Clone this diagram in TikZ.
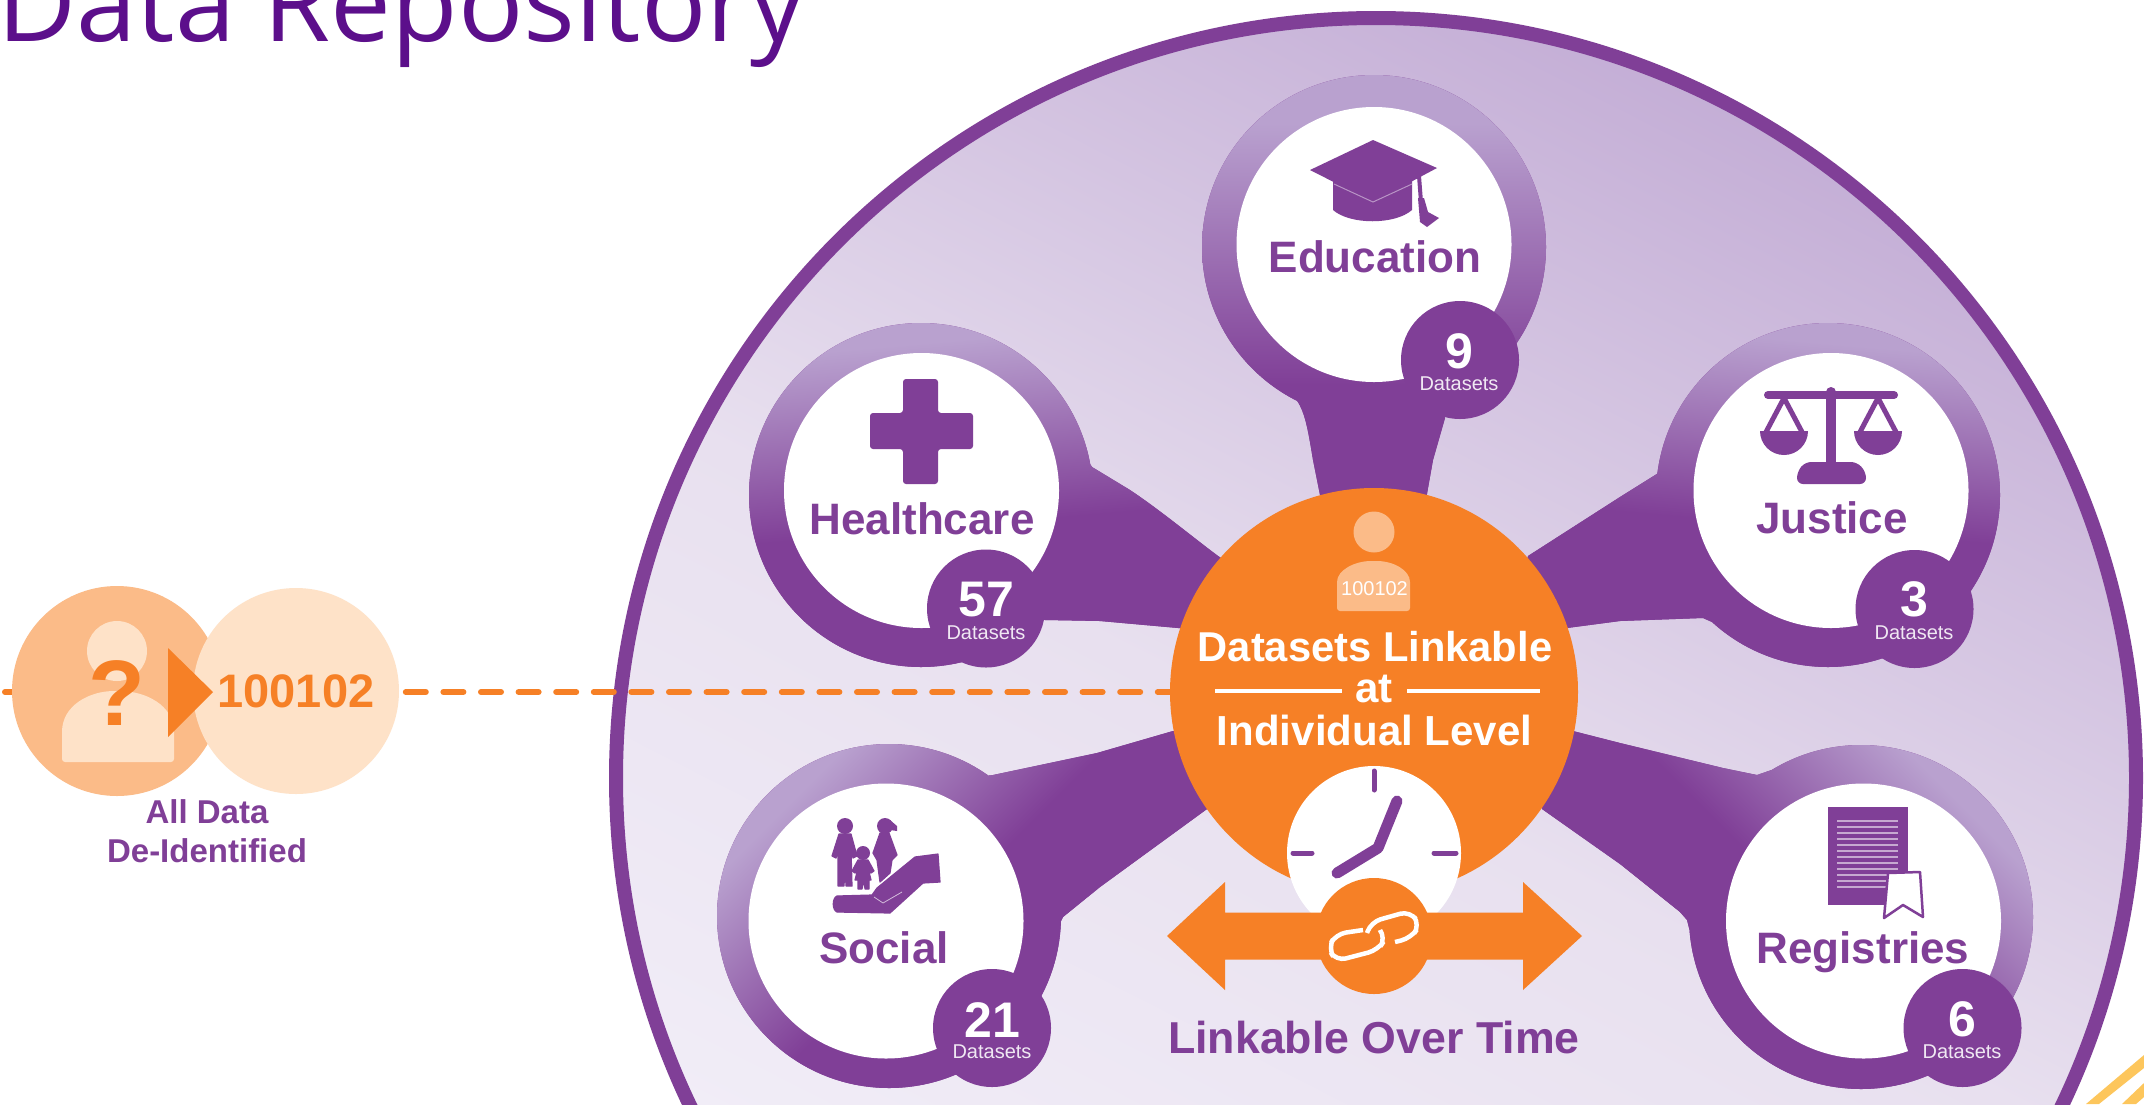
\documentclass[tikz,border=0pt]{standalone}
\usepackage{fontspec}
\setmainfont{Liberation Sans}
\newfontfamily\titlefont{Open Sans}
\definecolor{hubsp}{HTML}{803F97}
\definecolor{hublt}{HTML}{B9A1CF}
\definecolor{hubor}{HTML}{F68026}
\definecolor{peach}{HTML}{FBBB88}
\definecolor{cream}{HTML}{FEE2C8}
\definecolor{titlec}{HTML}{5C0F8B}
\definecolor{bgA}{HTML}{F4F0F9}
\definecolor{bgB}{HTML}{F1EDF7}
\definecolor{bgC}{HTML}{E8E0EF}
\definecolor{bgD}{HTML}{C4AED6}
\definecolor{stripeA}{HTML}{FDC65C}
\pgfdeclareverticalshading{hubA}{100bp}{color(0bp)=(hubsp);color(47.5bp)=(hubsp);color(61bp)=(hublt);color(100bp)=(hublt)}
\pgfdeclareverticalshading{hubB}{100bp}{color(0bp)=(hubsp);color(40bp)=(hubsp);color(59bp)=(hublt);color(100bp)=(hublt)}
\pgfdeclareverticalshading{bgdisk}{100bp}{color(0bp)=(bgA);color(30bp)=(bgB);color(50bp)=(bgC);color(75bp)=(bgD);color(100bp)=(bgD)}
\newcommand{\fsz}[1]{\fontsize{#1}{#1}\selectfont}
\tikzset{
  ptxt/.style={anchor=base,inner sep=0pt,text=hubsp,font=\fsz{#1}\bfseries},
  wtxt/.style={anchor=base,inner sep=0pt,text=white,font=\fsz{#1}\bfseries},
  dsets/.style={anchor=base,inner sep=0pt,text=white!88!hubsp,font=\fsz{20}},
  badge/.style={circle,fill=hubsp,inner sep=0pt,minimum size=118pt},
  whitedisc/.style={circle,fill=white,inner sep=0pt,minimum size=275pt},
  icon/.style={fill=hubsp,draw=none},
  figure icon/.style={fill=hubsp,draw=hubsp,line width=1.2pt,line join=round},
}
% #1 ring centre, #2 shading name, #3 shading angle, #4 spoke path
\newcommand{\hubring}[4]{%
  \fill[hubsp] (#1) circle (172pt) #4;
  \begin{scope}
    \clip (#1) circle (172pt) #4;
    \shade[shading=#2,shading angle=#3] (#1) circle (344pt);
  \end{scope}}
\begin{document}
\begin{tikzpicture}[x=1pt,y=-1pt]
\useasboundingbox (0,0) rectangle (2144,1104);
\clip (0,0) rectangle (2144,1104);
\fill[white] (0,0) rectangle (2144,1104);

% title
\node[anchor=base east,inner sep=0pt,text=titlec,font=\fsz{108.5}\titlefont] (title) at (806,41) {Data Repository};

% corner stripes
\fill[stripeA] (2086,1104) -- (2099,1104) -- (2144,1068) -- (2144,1055) -- cycle;
\fill[stripeA] (2122,1104) -- (2136,1104) -- (2144,1097) -- (2144,1083) -- cycle;

% big disc
\shade[shading=bgdisk,shading angle=-27] (1376,778) circle (760pt);
\draw[hubsp,line width=14pt] (1376,778) circle (760pt);

% hubs with spokes
\hubring{1374,247}{hubB}{0}{(1295,398) .. controls (1305,410) and (1308,430) .. (1313,460) -- (1322,505) -- (1425,505) -- (1433,460) -- (1445,418) -- (1374,300) -- cycle}
\hubring{921,495}{hubA}{5}{(921,560) -- (1045,620) -- (1100,621) -- (1178,628) -- (1240,628) -- (1240,570) -- (1218,556) .. controls (1190,535) and (1160,510) .. (1130,490) -- (1092,467) .. controls (1089,463) and (1087,458) .. (1085,453) -- (921,430) -- cycle}
\hubring{1828,495}{hubA}{-5}{(1828,430) -- (1660,472) -- (1620,497) -- (1528,556) -- (1510,630) -- (1567,628) -- (1620,621) -- (1703,618) -- (1712,622) -- (1746,645) -- (1828,560) -- cycle}
\hubring{889,916}{hubA}{45}{(889,1000) -- (1040,992) -- (1060,923) -- (1063,917) -- (1100,887) -- (1207,809) -- (1225,735) -- (1173,731) -- (1097,753) -- (993,775) -- (985,776) -- (889,830) -- cycle}
\hubring{1861,917}{hubA}{-45}{(1861,830) -- (1786,765) -- (1757,775) -- (1723,768) -- (1620,743) -- (1573,731) -- (1530,760) -- (1542,809) -- (1620,864) -- (1680,912) -- (1687,920) -- (1699,968) -- (1861,1000) -- cycle}

% white discs
\node[whitedisc] (eduW) at (1374,244.5) {};
\node[whitedisc] (heaW) at (921.5,490.5) {};
\node[whitedisc] (jusW) at (1831,490.5) {};
\node[whitedisc] (socW) at (886,921) {};
\node[whitedisc] (regW) at (1863.5,921) {};
% badges
\node[badge] (eduB) at (1460,360) {};
\node[badge] (heaB) at (986,608.5) {};
\node[badge] (jusB) at (1914.5,609) {};
\node[badge] (socB) at (992,1028) {};
\node[badge] (regB) at (1962.5,1028) {};

% labels
\node[ptxt=44] (eduL) at (1375,272.7) {Education};
\node[ptxt=44] (heaL) at (922,534) {Healthcare};
\node[ptxt=44] (jusL) at (1832,533) {Justice};
\node[ptxt=44] (socL) at (884,963) {Social};
\node[ptxt=44] (regL) at (1863,963) {Registries};
\node[wtxt=50] (eduN) at (1459,368) {9};
\node[dsets] (eduD) at (1459,390) {Datasets};
\node[wtxt=50] (heaN) at (986,616) {57};
\node[dsets] (heaD) at (986,639) {Datasets};
\node[wtxt=50] (jusN) at (1914,616) {3};
\node[dsets] (jusD) at (1914,639) {Datasets};
\node[wtxt=50] (socN) at (992,1037) {21};
\node[dsets] (socD) at (992,1058) {Datasets};
\node[wtxt=50] (regN) at (1962,1036) {6};
\node[dsets] (regD) at (1962,1058) {Datasets};

% education cap
\fill[icon] (1333,180) -- (1412,180) -- (1412,210) .. controls (1395,225) and (1350,225) .. (1333,210) -- cycle;
\fill[icon] (1310,170) -- (1373,140) -- (1437,168) -- (1373,202) -- cycle;
\draw[white!45!hubsp,line width=1pt] (1334,184) -- (1373,202) -- (1412,184);
\draw[hubsp,line width=4pt] (1419,176) -- (1421,202);
\fill[icon] (1418,198) -- (1424,198) -- (1428,212) -- (1439,218) -- (1427,227) -- (1420,222) -- cycle;

% plus
\fill[icon,rounded corners=3pt] (903,379) -- (938,379) -- (938,413) -- (973,413) -- (973,449) -- (938,449) -- (938,484) -- (903,484) -- (903,449) -- (870,449) -- (870,413) -- (903,413) -- cycle;

% scales
\draw[hubsp,line width=8pt,line cap=round] (1768,395) -- (1894,395);
\draw[hubsp,line width=10pt,line cap=round] (1831,392) -- (1831,465);
\fill[icon,rounded corners=6pt] (1805,462) -- (1857,462) -- (1866,472) -- (1866,484) -- (1797,484) -- (1797,472) -- cycle;
\draw[hubsp,line width=5pt] (1766,432) -- (1784,398) -- (1802,432);
\draw[hubsp,line width=5pt] (1860,432) -- (1878,398) -- (1896,432);
\fill[icon] (1760,431) -- (1808,431) arc[start angle=0,end angle=-180,radius=24pt] -- cycle;
\fill[icon] (1854,431) -- (1902,431) arc[start angle=0,end angle=-180,radius=24pt] -- cycle;

% family and hand
\fill[icon] (845,826) circle (8pt);
\fill[figure icon] (839,834) -- (851,834) -- (857,856) -- (853,858) -- (851,849) -- (852,886) -- (846,886) -- (845,865) -- (844,886) -- (838,886) -- (838,850) -- (836,858) -- (832,856) -- cycle;
\fill[icon] (863,853) circle (7pt);
\fill[figure icon] (858,860) -- (868,860) -- (874,871) -- (871,873) -- (868,868) -- (871,880) -- (869,880) -- (869,889) -- (865,889) -- (864,880) -- (862,889) -- (858,889) -- (858,880) -- (855,880) -- (858,868) -- (855,873) -- (852,871) -- cycle;
\fill[icon] (885,826) circle (8pt);
\fill[icon] (890,820) -- (897,826) -- (897,831) -- (890,830) -- cycle;
\fill[figure icon] (880,833) -- (889,833) -- (897,855) -- (892,860) -- (890,873) -- (880,882) -- (877,860) -- (873,853) -- cycle;
\fill[figure icon] (837,896) -- (872,895) -- (877,888) -- (915,857) -- (938,854) -- (940,882) -- (923,883) -- (890,913) -- (837,912) .. controls (832,910) and (832,898) .. (837,896) -- cycle;
\draw[white!65!hubsp,line width=.8pt] (874,897) -- (883,903) -- (902,892);

% registry document
\fill[icon] (1828,807) rectangle (1908,905);
\foreach \yy in {821,827,833,839,845,851,857,863,869,875,881,887} \draw[white!55!hubsp,line width=2pt] (1837,\yy) -- (1898,\yy);
\fill[white] (1888,873) -- (1920,872) -- (1923,917) -- (1903,905) -- (1884,918) -- cycle;
\draw[hubsp,line width=2.5pt,line join=round] (1888,873) -- (1920,872) -- (1923,917) -- (1903,905) -- (1884,918) -- cycle;

% central disc
\node[circle,fill=hubor,inner sep=0pt,minimum size=408pt] (core) at (1374,692) {};

% dashed link
\coordinate (dashend) at (5,692);
\draw[hubor,line width=6pt,line cap=round,dash pattern=on 20pt off 17.6pt,dash phase=8pt] (core.west) -- (dashend);

% person in the core
\fill[peach] (1374,532) circle (20.5pt);
\fill[peach,rounded corners=3pt] (1337,611) -- (1337,585) .. controls (1337,570) and (1355,561) .. (1374,561) .. controls (1393,561) and (1410,570) .. (1410,585) -- (1410,611) -- cycle;
\node[anchor=base,inner sep=0pt,text=white,font=\fsz{20}] (coreid) at (1374.5,595.5) {100102};

% core text
\node[wtxt=41.7] (coreA) at (1375,661) {Datasets Linkable};
\node[wtxt=42] (coreB) at (1374,702) {at};
\node[wtxt=42] (coreC) at (1374.5,745) {Individual Level};
\draw[white,line width=3.5pt] (1215,691) -- (1342,691);
\draw[white,line width=3.5pt] (1407,691) -- (1540,691);

% clock
\node[circle,fill=white,inner sep=0pt,minimum size=174pt] (clock) at (1374,853) {};
\draw[hubsp,line width=5pt,line cap=round] (1374,771) -- (1374,790);
\draw[hubsp,line width=5pt,line cap=round] (1293,853) -- (1312,853);
\draw[hubsp,line width=5pt,line cap=round] (1434,853) -- (1456,853);
\draw[hubsp,line width=11pt,line cap=round,line join=round] (1397,801) -- (1378,848) -- (1337,873);

% link arrow
\fill[hubor] (1167,936) -- (1225,882) -- (1225,912.5) -- (1523,912.5) -- (1523,882) -- (1582,936) -- (1523,990) -- (1523,959.5) -- (1225,959.5) -- (1225,990) -- cycle;
\node[circle,fill=hubor,inner sep=0pt,minimum size=116pt] (linkc) at (1374,936) {};
\draw[white,line width=4.5pt,rounded corners=10pt] (1363,930) -- (1336,934) -- (1328,948) -- (1336,961) -- (1378,950) -- (1386,938) -- (1380,930);
\draw[white,line width=4.5pt,rounded corners=10pt] (1367,933) -- (1371,922) -- (1410,911) -- (1420,925) -- (1411,938) -- (1395,942);
\node[ptxt=44.7] (overtime) at (1374,1053) {Linkable Over Time};

% left: de-identification
\node[circle,fill=peach,inner sep=0pt,minimum size=210pt] (anon) at (117,691) {};
\fill[cream] (117,651) circle (30pt);
\fill[cream,rounded corners=3pt] (62,762) -- (62,735) .. controls (62,705) and (90,691) .. (117,691) .. controls (145,691) and (174,705) .. (174,735) -- (174,762) -- cycle;
\node[anchor=base,inner sep=0pt,text=hubor,font=\fsz{93}\bfseries] (qm) at (117,725) {?};
\node[circle,fill=cream,inner sep=0pt,minimum size=206pt] (idc) at (296,691) {};
\fill[hubor] (168,648) -- (213,692) -- (168,737) -- cycle;
\node[anchor=base,inner sep=0pt,text=hubor,font=\fsz{47}\bfseries] (idt) at (296,707) {100102};
\node[ptxt=33] (allA) at (207,823) {All Data};
\node[ptxt=33] (allB) at (207,862) {De-Identified};
\end{tikzpicture}
\end{document}
